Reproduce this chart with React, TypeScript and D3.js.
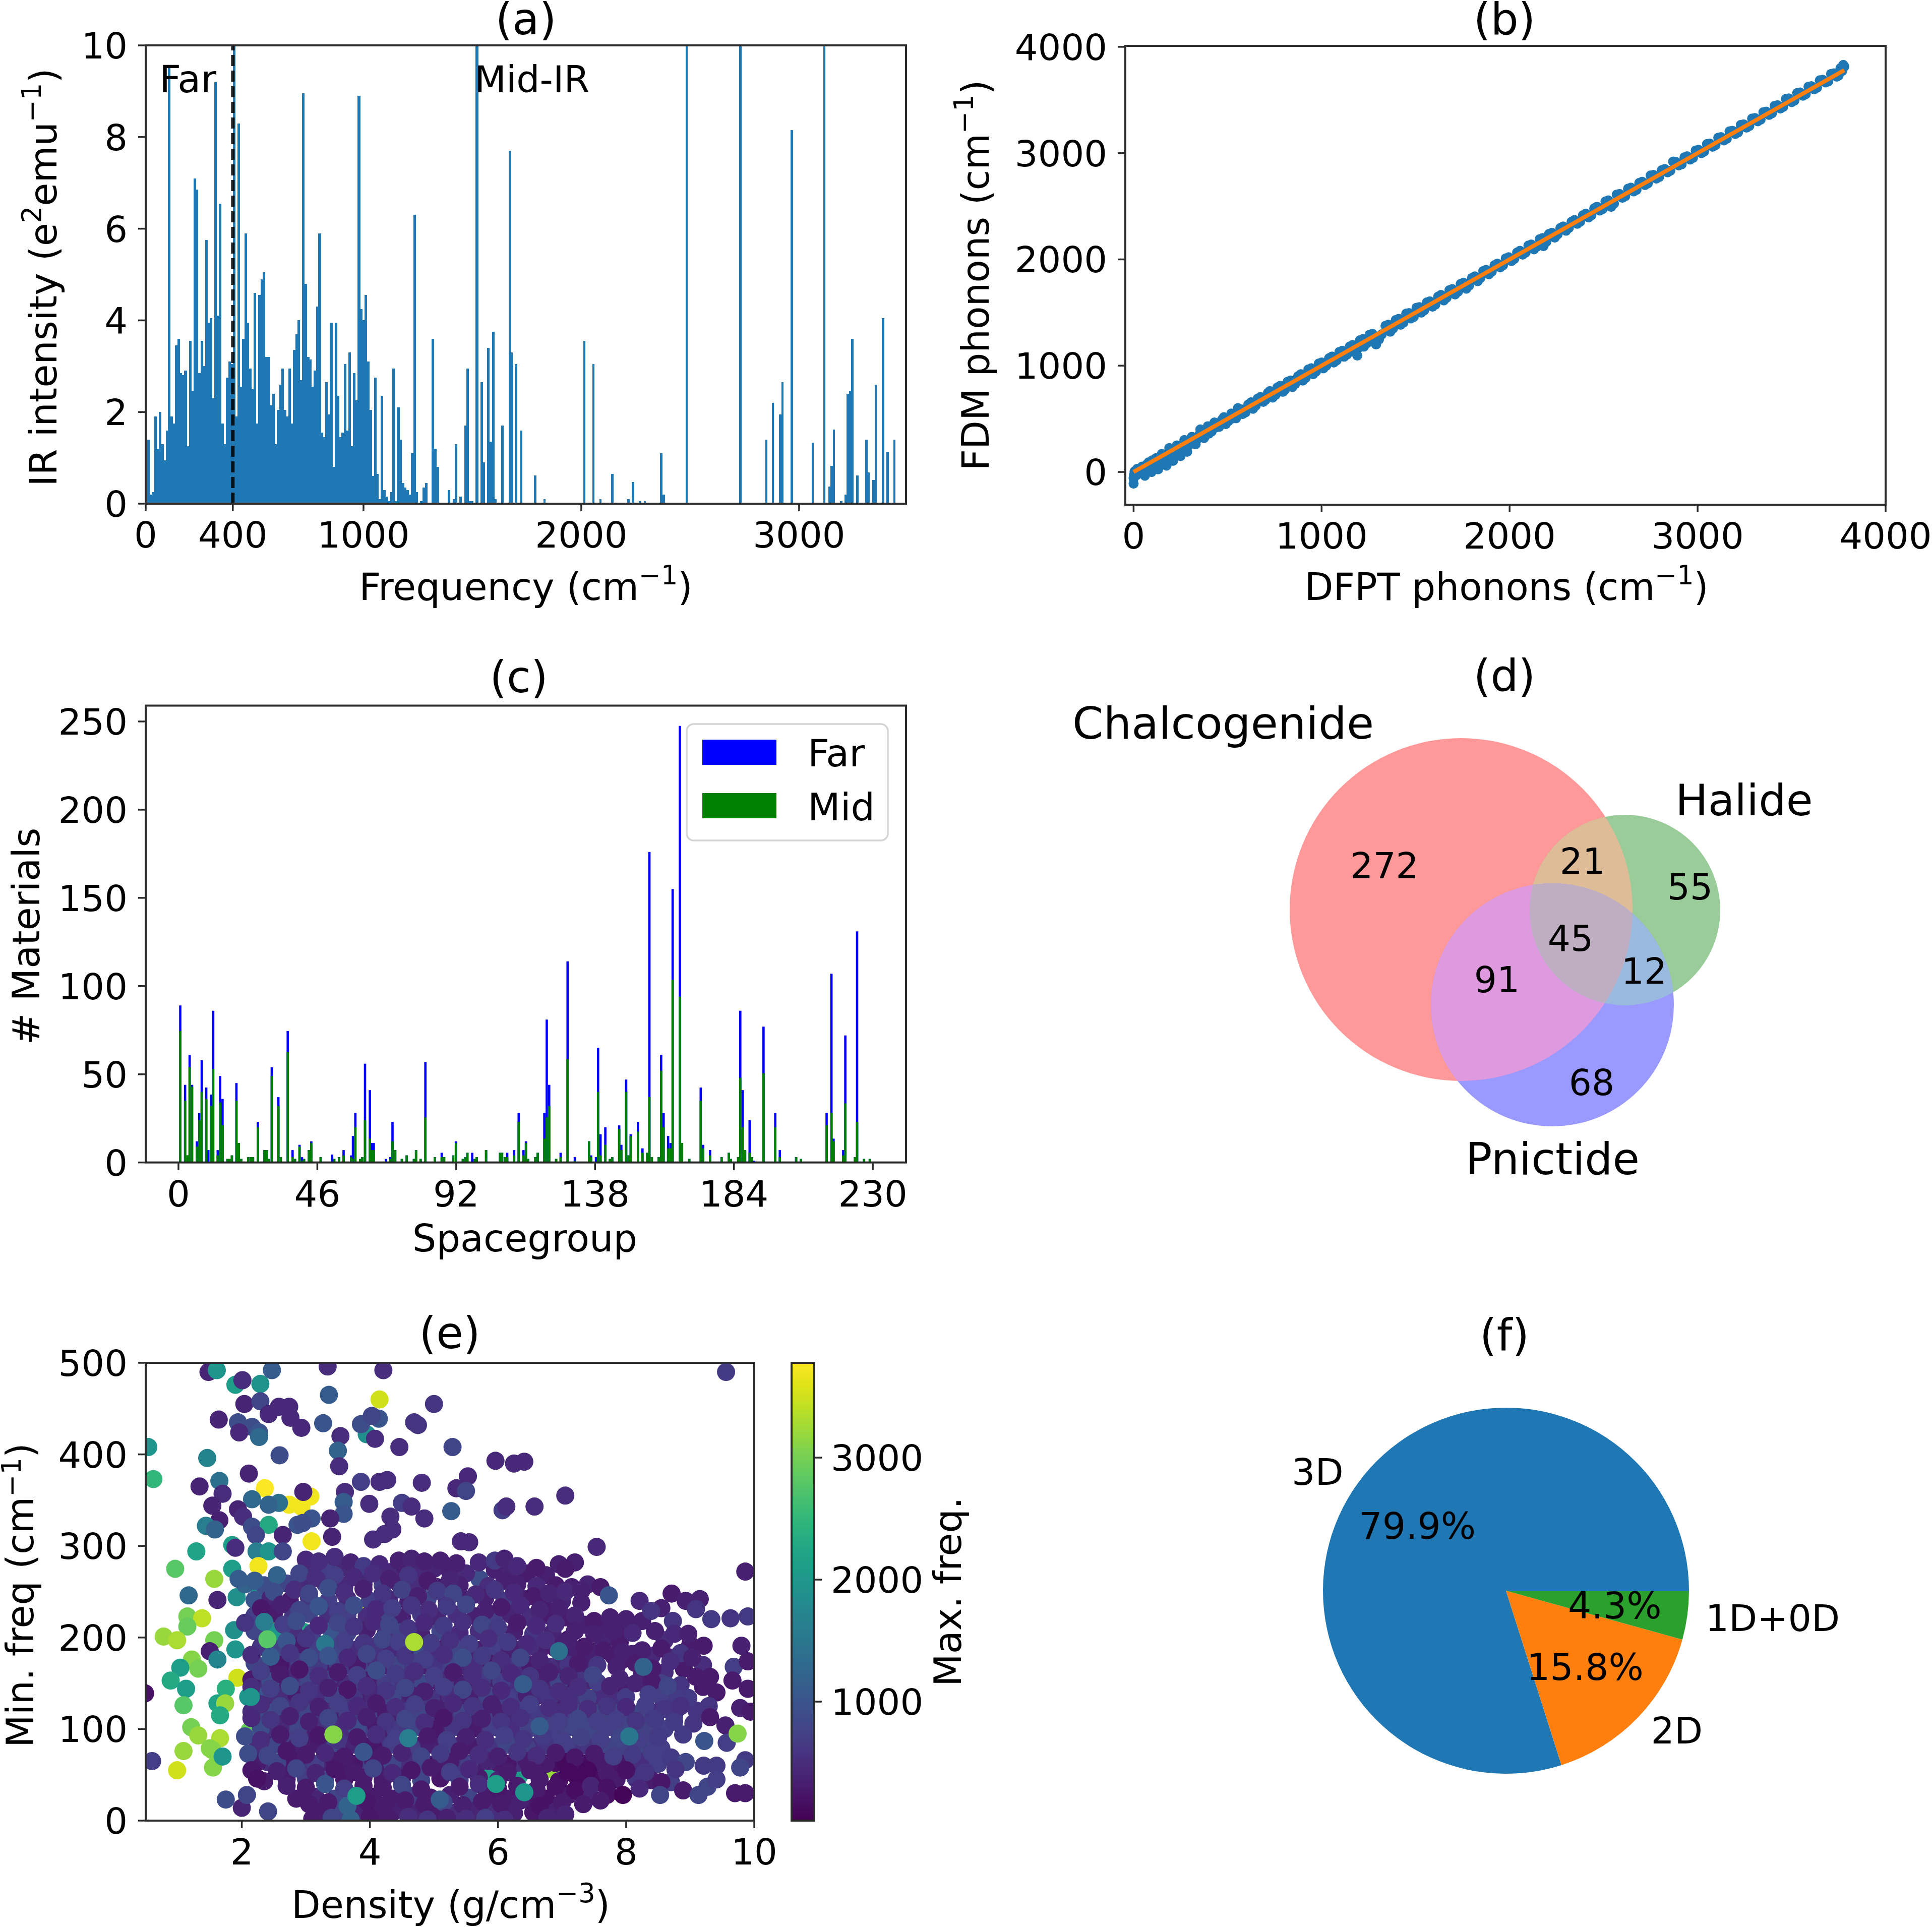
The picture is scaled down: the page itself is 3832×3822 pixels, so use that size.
import * as d3 from "d3";

// ---- panel (a): IR intensity histogram
const irBinStart = 7;
const irBinWidth = 10.62;
const irIntensity = [
  1.4, 0.2, 0.25, 1.9, 1.2, 2.0, 1.3, 0.95, 1.6, 9.5, 1.9, 1.75, 3.45, 3.6, 2.85, 2.8, 2.9, 1.25, 3.55, 2.45,
  7.1, 6.85, 2.85, 3.55, 3.0, 5.75, 3.95, 4.05, 2.3, 9.2, 4.1, 6.55, 1.75, 1.3, 2.75, 3.1, 3.05, 10, 1.9, 8.3, 2.55,
  3.6, 5.9, 3.95, 2.95, 2.5, 4.6, 1.75, 4.55, 4.9, 5.05, 3.2, 3.2, 2.15, 2.4, 1.3, 2.05, 2.6, 2.95, 2.05, 1.9,
  2.95, 1.75, 3.35, 3.7, 4.0, 2.7, 8.95, 4.8, 3.2, 3.15, 2.55, 2.9, 4.3, 5.9, 1.55, 1.45, 2.65, 1.95, 3.95, 0.8,
  3.95, 2.35, 1.45, 1.55, 3.05, 1.6, 3.3, 1.25, 2.85, 2.25, 8.9, 4.25, 4.0, 4.55, 3.1, 2.05, 0.6, 2.75, 0.65, 0.1,
  2.35, 0.3, 0.15, 0.05, 0.25, 2.95, 0.05, 2.1, 1.4, 0.45, 0.35, 0.3, 0.2, 1.1, 6.3, 0.25, 0, 0.05, 0.35, 0.45,
  0, 0, 3.6, 1.2, 0.8, 0, 0, 0, 0, 0.3, 0, 0.1, 1.3, 0, 0.15, 0, 1.7, 2.95, 0.05, 0.05,
  0, 10, 0, 2.65, 0.9, 0, 3.4, 1.35, 3.75, 0.1, 0, 0, 1.7,
];
const irPeakFreq = [
  1671, 1681, 1701, 1725, 1788, 1831, 2014, 2056, 2088, 2142, 2217, 2238, 2270, 2292, 2367, 2378, 2484, 2731, 2850, 2880,
  2914, 2924, 2967, 3063, 3116, 3139, 3150, 3160, 3193, 3214, 3224, 3234, 3245, 3267, 3309, 3319, 3342, 3352, 3385, 3407, 3438,
];
const irPeakValue = [
  7.7, 3.3, 3.05, 1.6, 0.62, 0.1, 3.55, 3.05, 0.1, 0.65, 0.1, 0.47, 0.05, 0.05, 1.1, 0.2, 10, 10, 1.4, 2.2,
  1.95, 2.65, 8.15, 1.33, 10, 0.37, 0.82, 1.62, 0.05, 0.2, 2.4, 2.45, 3.6, 0.62, 1.4, 0.68, 0.52, 2.6, 4.05, 1.13, 1.4,
];
const irTicksX = [0, 400, 1000, 2000, 3000];
const irTicksY = [0, 2, 4, 6, 8, 10];

// ---- panel (b): FDM vs DFPT phonons
const phononPairs: [number, number][] = [
  [0,-110],[0,-60],[2,-30],[5,5],[10,-20],[20,30],[30,-15],[45,50],[55,-10],[70,70],[85,25],[100,110],[110,40],[125,75],[140,60],
  [150,170],[165,100],[180,120],[190,225],[200,150],[215,165],[230,250],[240,190],[255,200],[270,300],[280,230],[295,255],[310,330],
  [320,280],[340,310],[355,400],[365,330],[385,395],[400,360],[430,465],[455,425],[480,515],[505,480],[530,505],[555,600],[580,545],
  [610,635],[635,595],[660,690],[690,660],[715,745],[740,700],[765,795],[795,755],[820,850],[845,800],[875,900],[900,860],[930,965],
  [955,920],[985,1020],[1010,975],[1040,1070],[1065,1030],[1095,1130],[1120,1085],[1150,1180],[1175,1130],[1190,1095],[1205,1240],
  [1225,1180],[1255,1290],[1285,1240],[1290,1200],[1305,1246],[1340,1375],[1365,1320],[1395,1430],[1420,1385],[1450,1490],[1475,1445],
  [1505,1545],[1530,1500],[1560,1595],[1590,1555],[1620,1650],[1650,1615],[1680,1710],[1710,1670],[1740,1770],[1770,1725],[1800,1825],
  [1830,1795],[1860,1890],[1890,1860],[1920,1945],[1950,1925],[1980,2010],[2010,1985],[2040,2065],[2070,2045],[2100,2130],[2130,2095],
  [2160,2190],[2180,2125],[2210,2240],[2240,2205],[2270,2295],[2300,2270],[2330,2355],[2360,2335],[2390,2415],[2420,2395],[2450,2480],
  [2480,2460],[2510,2545],[2540,2495],[2570,2610],[2600,2580],[2630,2665],[2660,2640],[2690,2720],[2720,2700],[2750,2790],[2780,2760],
  [2810,2840],[2840,2820],[2870,2920],[2900,2885],[2930,2960],[2960,2940],[2990,3025],[3020,3000],[3050,3085],[3080,3060],[3110,3145],
  [3140,3120],[3170,3205],[3200,3180],[3230,3265],[3260,3240],[3290,3325],[3320,3300],[3350,3385],[3380,3360],[3410,3445],[3440,3420],
  [3470,3510],[3500,3480],[3530,3565],[3560,3540],[3590,3625],[3620,3600],[3650,3685],[3680,3665],[3710,3745],[3740,3720],[3760,3800],
  [3780,3815],[3775,3830],[3770,3775],
];
const phononInfill: [number, number][] = [
  [15,-30],[40,10],[60,-35],[80,90],[95,0],[120,130],[130,25],[155,110],[175,60],[195,170],[210,105],[235,210],[250,150],[265,260],[285,190],
  [305,290],[330,260],[350,350],[375,320],[395,430],[415,380],[440,420],[470,490],[490,450],[520,550],[545,505],[570,590],[595,560],[625,655],
  [650,625],[675,705],[700,675],[725,760],[755,725],[780,810],[805,775],[835,860],[860,830],[890,920],[915,885],[945,975],[970,945],[1000,1030],
  [1025,1000],[1055,1085],[1080,1050],[1110,1140],[1135,1105],[1165,1195],[1195,1165],[1220,1250],[1240,1210],[1270,1300],[1320,1295],[1355,1385],
  [1380,1350],[1410,1440],[1435,1405],[1465,1495],[1490,1460],[1520,1550],[1545,1520],[1575,1605],[1605,1575],[1635,1665],[1665,1640],[1695,1720],
  [1725,1695],[1755,1780],[1785,1755],[1815,1840],[1845,1825],[1875,1900],[1905,1885],[1935,1960],[1965,1945],[1995,2020],[2025,2005],[2055,2080],
  [2085,2065],[2115,2140],[2145,2120],[2175,2200],[2195,2165],[2225,2250],[2255,2235],[2285,2310],[2315,2295],[2345,2370],[2375,2355],[2405,2430],
  [2435,2415],[2465,2495],[2495,2475],[2525,2555],[2555,2525],[2585,2615],[2615,2595],[2645,2675],[2675,2655],[2705,2730],[2735,2715],[2765,2795],
  [2795,2775],[2825,2850],[2855,2835],[2885,2915],[2915,2895],[2945,2970],[2975,2955],[3005,3030],[3035,3015],[3065,3090],[3095,3075],[3125,3150],
  [3155,3135],[3185,3210],[3215,3195],[3245,3270],[3275,3255],[3305,3330],[3335,3315],[3365,3390],[3395,3375],[3425,3450],[3455,3435],[3485,3515],
  [3515,3495],[3545,3570],[3575,3555],[3605,3630],[3635,3615],[3665,3690],[3695,3675],[3725,3750],[3750,3730],[3770,3810],
];
const parityLine = [0, 3780];
const phononTicks = [0, 1000, 2000, 3000, 4000];

// ---- panel (c): materials per spacegroup
const sgPosition = [
  0.6,2.2,3,3.7,4.5,6.1,6.9,7.7,9.2,9.9,10.8,11.5,13,13.8,14.6,16.2,16.9,17.7,19.2,20,20.8,23.1,24,24.7,26.3,28.5,29.3,30,30.9,33.1,33.9,
  36.2,37.8,38.6,40.1,40.9,41.6,43.2,44,47.1,50.9,51.6,53.2,54.7,57.2,57.8,58.6,60.2,60.9,61.8,63.4,64,64.7,68.7,70.2,70.9,71.8,74,75.6,
  78,78.7,80.2,81.8,84.9,87.2,88,91,91.9,94.2,95,95.7,97.3,98.1,98.8,101.9,106.5,107.2,
  108.1,108.9,111.2,112.7,114.3,115.1,115.8,118.2,119,121.2,122,122.8,125.1,126.6,128.9,131.3,136,136.7,138.3,139,139.8,141.4,142.9,143.7,
  146,146.7,148.3,149.1,149.8,152.2,153.7,155.3,156,156.8,159.1,159.9,160.7,162.2,163,163.7,166.1,166.8,169.2,173,173.8,176.1,179.9,182.3,
  183,185.4,186.1,186.9,187.7,189.2,190,190.7,193.8,197.7,199.2,204.6,206.2,214.7,216.3,217,220.2,220.9,224.1,224.8,227.1,229,
];
const sgFar = [
  89,44,4,61,44,12,28,58,42.5,7,38.5,86,7,49,36,2,2,4,45,11,2,3,3,3,23,7,7,2,54,37,3,74.5,7,2,10,3,2,7,12,3,4.5,2,3,7,4,15,28,2,3,56,41,11,11,
  2,3,23,7,2,4,2,7,2,57,3,5.5,3,4,12,2,3,5.5,5.5,2,3,7,5.5,5.5,
  3,5.5,7,28,7,12,2,3,5.5,28,81,44,2,5.5,114,3,12,4,3,65,16,20,2,3,21,10,47,4,16,23,8,5.5,176,3,3,61,28,15,11,155,247.5,11,2,42.5,10,7,3,5.5,
  2,3,86,41,7,24,3,1,77,28,7,3,2,28,107,13.5,7,72,3,131,2,2,
];
const sgMid = [
  74.5,35,4,54,43,9,24,40,36,0,32,53,4,34,21,2,2,4,35,11,2,3,3,3,20,7,7,2,49,32,3,62.5,3,2,9,1,2,7,11,3,0,2,3,4,3,2,20,2,3,24,13.5,7,7,
  0,2,12,7,2,4,2,7,2,25.5,3,3,3,4,11,2,3,5.5,0,2,3,7,5.5,5.5,
  3,3,4,23,4,11,2,3,5.5,13.5,25.5,32,2,3,58.5,1,12,3,0,40,4,10,2,3,19,7,40,4,15,17.5,5.5,5.5,37,3,3,52,20,8,8,103.5,94,11,2,35,8,4,3,5.5,
  2,3,48,20,7,5.5,3,0,50.5,20,3,3,2,21,28,12,4,33.5,3,23,2,2,
];
const sgTicksX = [0, 46, 92, 138, 184, 230];
const sgTicksY = [0, 50, 100, 150, 200, 250];

// ---- panel (d): venn
const vennRegionCounts = ["272", "21", "55", "45", "91", "12", "68"];
const vennNames = ["Chalcogenide", "Halide", "Pnictide"];

// ---- panel (e): density vs min/max frequency, [density, min freq, max freq]
const upperPoints: [number, number, number][] = [
  [1.48,490,400],[1.61,492,2000],[1.9,476,2100],[2.01,481,500],[2.29,477,1950],[2.47,492,1100],[3.34,496,500],[4.21,492,500],[2.04,455,400],
  [2.29,458,800],[3.36,465,1100],[4.15,460,3500],[1.64,438,400],[1.94,435,900],[2.42,444,450],[2.58,452,450],[2.74,452,450],[2.76,440,450],
  [2.93,429,450],[2.16,430,900],[2.27,424,1000],[1.96,424,450],[2.27,419,1300],[3.27,434,1000],[3.95,422,1900],[3.86,433,900],[4.14,439,1000],[4.03,442,800],
  [4.08,417,500],[3.54,420,500],[3.5,404,1200],[4.46,408,500],[0.54,408,2000],[1.46,396,1700],[2.59,399,900],[3.52,387,500],[0.62,373,2500],
  [2.11,379,400],[3.86,370,700],[4.15,370,500],[4.27,372,500],[1.34,365,400],[1.65,371,1400],[1.7,357,500],[2.36,363,3750],[3.07,354,3700],
  [2.74,345,3700],[2.93,343,3700],[2.96,359,400],[3.61,359,500],[2.16,351,1300],[2.58,347,1400],[2.42,345,1200],[3.59,348,1100],[3.99,346,500],
  [4.5,347,700],[1.54,344,400],[1.94,340,400],[2.02,332,500],[1.65,328,350],[3.59,335,1000],[3.38,330,400],[4.32,332,500],[1.44,322,1600],
  [1.58,318,1200],[2.16,321,900],[2.42,323,2300],[2.87,323,1000],[3.09,330,1000],[2.95,325,900],[2.64,312,400],[2.22,312,800],[3.09,305,3700],
  [3.41,310,400],[4.05,307,500],[4.23,313,500],[4.35,318,500],[1.29,294,2200],[1.85,301,2100],[1.9,298,500],[2.23,294,1600],[2.42,294,2000],[2.64,294,800],
  [2.26,278,3700],[0.96,275,2800],[1.85,275,2100],[1.57,264,3200],[1.17,246,1300],[1.62,241,400],[1.92,244,1900],[2.26,255,2000],
  [1.15,223,3000],[1.38,221,3400],[1.15,212,2900],[0.78,201,3200],[0.99,197,3300],[1.57,197,3000],[1.88,208,1900],[1.9,187,2000],[1.5,185,350],
  [1.62,176,1700],[1.22,176,3100],[1.32,166,3000],[1.04,167,2100],[0.89,153,2300],[1.13,144,2100],[1.93,156,3500],[1.75,144,2400],[0.49,139,200],
  [1.09,126,2800],[1.62,128,2200],[1.74,128,3200],[2.1,135,2000],[1.66,115,2300],[1.21,102,3000],[1.32,93,3200],[1.66,90,3300],[2.12,98,2900],
  [2.34,97,3400],[1.09,76,3200],[1.5,79,3100],[1.54,77,3100],[0.6,65,700],[0.99,55,3500],[1.55,58,3100],[1.7,70,2000],[1.75,23,900],[2,14,400],
  [2.41,10,800],[2.08,28,800],[2.48,240,3700],[2.48,214,3700],[3.98,237,3700],[2.97,206,2300],[2.24,46,200],
  [9.56,490,650],[5,455,600],[4.69,435,600],[4.75,432,600],[5.29,408,800],[5.96,393,450],[6.25,390,450],[6.41,392,450],[4.81,369,500],[5.53,376,450],
  [5.35,363,450],[5.5,360,800],[4.65,343,500],[4.85,330,500],[5.27,338,1100],[6.07,339,700],[6.13,343,500],[6.57,343,500],[7.05,355,500],
  [5.42,305,450],[5.55,304,450],[7.54,299,450],[9.86,272,350],[5.71,264,900],[6.18,130,3100],[7.51,141,3700],[6.85,56,3200],[6.33,49,2100],
  [5.9,53,2100],[4.7,185,3300],
];
// darker backing layers that close most of the gaps in the cloud
const backingPoints: [number, number, number][] = [
  [2.45,190,500],[2.75,186,350],[3.05,186,450],[3.35,186,700],[3.65,188,500],[3.95,186,350],[4.25,188,600],[4.55,187,450],[4.85,186,650],[5.15,188,400],[5.45,186,700],[5.75,187,300],[6.05,186,500],[6.35,187,450],[6.65,186,350],[7,182,300],[7.35,178,350],[7.95,176,300],
  [2.45,170,300],[2.75,171,500],[3.05,170,700],[3.35,171,350],[3.65,170,600],[3.95,171,800],[4.25,170,400],[4.55,171,600],[4.85,170,350],[5.15,171,700],[5.45,170,450],[5.75,171,600],[6.05,170,350],[6.35,170,500],[6.65,170,300],[6.95,170,400],[7.25,164,450],
  [2.3,153,600],[2.6,153,350],[2.9,153,700],[3.2,153,500],[3.5,152,350],[3.8,153,700],[4.1,152,450],[4.4,153,600],[4.7,152,800],[5,153,350],[5.3,152,700],[5.6,153,500],[5.9,152,350],[6.2,153,550],[6.5,152,650],[6.8,153,450],[7.1,152,300],[7.4,153,400],
  [2.4,136,350],[2.7,136,500],[3,136,650],[3.3,136,800],[3.6,136,500],[3.9,136,350],[4.2,136,700],[4.5,136,450],[4.8,135,600],[5.1,136,350],[5.4,136,500],[5.7,136,700],[6,136,400],[6.3,136,650],[6.6,136,500],[6.95,135,350],[7.25,135,600],[7.55,135,500],[7.85,135,550],
  [2.3,118,800],[2.6,118,400],[2.9,118,700],[3.2,117,500],[3.5,118,350],[3.8,118,600],[4.1,118,800],[4.4,118,350],[4.7,117,700],[5,117,500],[5.3,118,600],[5.6,118,350],[5.9,118,700],[6.2,118,450],[6.5,118,600],[6.8,117,750],[7.1,117,650],[7.4,117,700],[7.7,117,750],[8,117,700],[8.3,117,650],
  [2.45,100,500],[2.75,100,700],[3.05,100,350],[3.35,101,800],[3.65,100,500],[3.95,101,700],[4.25,100,350],[4.55,100,600],[4.85,100,750],[5.15,100,350],[5.45,100,700],[5.75,100,500],[6.05,100,650],[6.35,100,800],[6.65,100,700],[6.95,100,650],[7.25,100,750],[7.55,100,800],[7.85,100,700],[8.15,99,700],[8.45,99,650],
  [2.4,82,300],[2.7,82,700],[3,82,500],[3.3,83,350],[3.6,82,750],[3.9,82,300],[4.2,82,600],[4.5,81,500],[4.8,82,350],[5.1,81,700],[5.4,82,450],[5.7,81,600],[6,81,750],[6.3,81,650],[6.6,81,500],[6.9,81,800],[7.2,81,700],[7.5,81,650],[7.8,81,750],[8.1,80,800],[8.4,80,700],
  [2.4,64,500],[2.7,64,300],[3,64,600],[3.3,64,400],[3.6,64,300],[3.9,64,700],[4.2,63,300],[4.5,63,500],[4.8,63,700],[5.1,63,300],[5.4,63,600],[5.7,63,350],[6,63,300],[6.3,63,500],[6.6,63,250],[6.9,63,150],[7.2,63,120],[7.5,63,250],[7.8,63,200],[8.1,63,400],[8.4,63,600],
];
const fillPoints: [number, number, number][] = [
  [3.1,275,500],[3.35,272,700],[3.6,276,450],[3.85,270,500],[4.1,274,350],[4.35,272,450],[4.55,276,350],[4.75,273,450],[5,275,400],[5.25,272,350],[5.5,270,450],[5.95,274,350],[6.2,271,400],[6.45,270,300],[6.75,268,350],
  [2.05,258,1200],[2.35,257,900],[2.7,259,800],[3,257,450],[3.3,259,600],[3.6,256,450],[3.9,258,450],[4.2,257,700],[4.45,259,350],[4.75,256,500],[5.05,255,350],[5.4,257,350],[5.85,256,500],[6.3,258,350],[6.6,256,450],[6.9,257,300],[7.15,255,350],[7.4,258,400],
  [2.2,241,1000],[2.45,243,400],[2.75,240,300],[3.05,243,600],[3.35,240,700],[3.65,242,450],[4,240,700],[4.3,242,450],[4.6,239,350],[4.9,242,800],[5.2,240,450],[5.5,241,350],[5.8,243,350],[6.1,240,650],[6.4,242,350],[6.7,238,300],[7,240,400],[7.3,238,350],
  [2.2,224,700],[2.5,226,300],[2.8,223,600],[3.05,226,800],[3.35,223,550],[3.65,225,700],[3.95,223,500],[4.25,225,800],[4.5,222,350],[4.8,225,650],[5.05,222,400],[5.35,225,500],[5.65,223,350],[5.95,222,700],[6.2,225,400],[6.5,222,500],[6.8,224,300],[7.05,222,300],[7.35,214,350],[7.65,212,350],[7.95,212,300],[8.25,218,350],[8.55,232,350],
  [2.2,207,800],[2.5,206,2000],[2.8,208,500],[3.1,205,700],[3.4,207,1000],[3.65,205,800],[3.95,208,350],[4.25,205,600],[4.5,206,800],[4.8,204,350],[5.1,207,800],[5.4,205,450],[5.7,207,500],[5.95,204,750],[6.25,206,350],[6.55,204,600],[6.85,205,400],[7.1,198,300],[7.65,197,400],[7.9,195,300],[8.6,197,500],
  [2.3,190,600],[2.6,188,800],[2.9,191,300],[3.2,188,700],[3.5,190,800],[3.8,187,500],[4.1,191,600],[4.35,188,450],[4.7,190,900],[5,187,500],[5.3,190,800],[5.6,187,400],[5.9,189,700],[6.2,187,350],[6.5,190,500],[6.9,188,300],[7.2,186,350],[7.5,184,350],[7.8,180,300],[8.1,182,350],[8.4,180,450],[8.7,178,400],[9,192,300],
  [2.2,172,800],[2.6,170,250],[2.9,173,700],[3.2,170,650],[3.5,171,800],[3.8,170,300],[4.1,172,500],[4.4,169,800],[4.7,172,700],[5,170,600],[5.3,172,800],[5.6,168,500],[5.9,171,300],[6.2,168,600],[6.5,170,300],[6.8,168,500],[7.1,170,600],[7.4,166,350],[8.6,162,500],[8.9,166,300],[9.2,170,500],[8.25,160,350],
  [2.15,154,300],[2.45,152,900],[2.75,155,450],[3.05,151,800],[3.35,154,700],[3.65,150,500],[3.95,153,300],[4.25,150,700],[4.55,153,500],[4.85,150,850],[5.15,153,500],[5.45,150,350],[5.75,153,650],[6.05,151,700],[6.35,154,450],[6.65,152,350],[6.95,151,800],[7.25,154,600],[7.55,151,700],[8,145,300],[8.55,150,700],[8.85,148,600],[9.2,146,300],[8,135,650],
  [2.25,136,1000],[2.55,135,500],[2.85,138,300],[3.15,134,500],[3.45,137,800],[3.75,134,600],[4.05,136,450],[4.35,134,800],[4.65,137,350],[4.95,133,600],[5.25,136,500],[5.55,134,350],[5.85,137,800],[6.15,134,700],[6.45,137,350],[6.8,134,600],[7.1,136,550],[7.4,134,750],[7.7,136,500],[8.55,135,700],[8.8,133,650],[9.1,120,600],
  [2.15,119,500],[2.45,118,900],[2.75,120,500],[3.05,117,800],[3.35,119,450],[3.65,117,700],[3.95,120,500],[4.25,117,300],[4.55,119,650],[4.85,116,800],[5.15,119,350],[5.45,117,800],[5.75,119,600],[6.05,117,350],[6.35,119,700],[6.65,116,650],[6.95,118,500],[7.25,117,800],[7.55,117,800],[7.85,117,800],[8.15,116,850],[8.45,118,500],[8.75,115,700],
  [2.3,101,900],[2.6,101,450],[2.9,103,800],[3.2,100,550],[3.5,102,500],[3.8,100,900],[4.1,103,300],[4.4,99,650],[4.7,102,800],[5,99,250],[5.3,102,600],[5.6,100,300],[5.9,102,700],[6.2,99,500],[6.5,101,750],[6.8,99,700],[7.1,102,800],[7.4,99,800],[7.7,102,700],[8,100,800],[8.3,98,750],[8.6,100,700],
  [2.25,82,500],[2.55,83,800],[2.85,81,350],[3.15,84,300],[3.45,81,800],[3.75,83,400],[4.05,81,250],[4.35,83,700],[4.65,80,700],[4.95,83,350],[5.25,80,800],[5.55,82,300],[5.85,80,600],[6.15,83,800],[6.45,80,750],[6.75,82,600],[7.05,80,700],[7.35,82,600],[7.65,80,800],[7.95,81,750],[8.25,80,800],[8.55,79,700],
  [2.25,64,300],[2.55,63,800],[2.85,65,250],[3.15,62,700],[3.45,65,300],[3.75,62,250],[4.05,65,300],[4.35,62,800],[4.65,64,500],[4.95,61,300],[5.25,64,300],[5.55,62,700],[5.85,65,400],[6.15,62,250],[6.45,65,300],[6.75,62,300],[7.05,64,120],[7.35,62,150],[7.65,64,300],[7.95,62,250],[8.25,64,500],[8.5,62,700],
  [2.35,43,300],[2.7,45,300],[3,46,700],[3.3,44,800],[3.6,45,250],[3.9,47,300],[4.2,44,300],[4.5,46,250],[4.8,44,800],[5.1,46,250],[5.4,44,700],[5.7,47,300],[6,44,400],[6.65,45,300],[6.95,43,150],[7.25,45,100],[7.55,44,150],[7.85,45,300],[8.15,46,600],[8.4,44,300],[8.7,42,700],
  [2.85,24,300],[3.15,26,400],[3.45,24,800],[3.75,27,300],[4.05,26,300],[4.35,24,300],[4.65,27,700],[4.95,25,300],[5.25,28,350],[5.55,25,800],[5.85,27,300],[6.15,24,300],[6.45,27,250],[6.75,24,200],[7.1,28,300],[7.4,25,400],[7.7,28,200],
  [3.2,9,300],[3.5,8,800],[3.8,10,400],[4.1,9,300],[4.4,11,350],[4.75,9,400],[5.05,10,300],[5.35,9,500],[5.65,11,400],[5.95,9,500],[6.25,8,350],[6.55,9,250],[6.9,10,350],
];
const densePoints: [number, number, number][] = [
  [3,285,450],[3.2,283,500],[3.45,288,500],[3.7,282,400],[3.9,278,650],[4.15,280,450],[4.45,284,350],[4.65,286,400],[4.85,283,350],[5.1,284,350],[5.35,281,350],
  [5.7,282,450],[5.95,284,650],[6.1,286,400],[6.3,278,450],[6.6,276,300],[6.95,280,350],[7.2,282,350],[7.05,275,300],
  [1.95,264,1100],[2.2,262,1100],[2.55,268,1200],[2.9,270,800],[3.15,265,500],[3.45,268,700],[3.75,266,450],[4.05,270,500],[4.3,264,350],[4.6,268,600],[4.9,262,300],[5.25,263,400],[6.1,262,350],
  [2.5,250,900],[2.82,252,500],[3.05,248,800],[3.35,254,900],[3.6,249,500],[3.9,253,350],[4.2,248,600],[4.5,252,750],[4.75,245,350],[5.05,251,650],[5.3,248,800],[5.65,247,450],[5.95,252,600],[6.25,249,450],[6.55,245,300],[6.8,248,400],[7.05,250,450],[7.3,251,350],[7.6,255,300],
  [2.3,232,250],[2.62,236,350],[2.9,230,800],[3.2,234,1000],[3.5,229,700],[3.75,235,900],[4.1,231,450],[4.35,232,700],[4.65,235,600],[4.92,230,500],[5.2,234,650],[5.5,236,800],[5.8,229,350],[6.05,233,300],[6.35,235,450],[6.65,230,400],[6.95,232,350],[7.2,224,400],[7.5,218,300],[7.73,246,1000],[7.75,222,350],[8,220,350],
  [8.21,240,450],[8.39,229,600],[8.71,248,300],[8.93,240,350],[9.15,242,350],[9.09,231,600],[8.73,218,600],[9.33,220,650],[9.63,221,600],[9.9,223,650],
  [2.05,216,600],[2.35,217,1600],[2.65,214,700],[2.85,218,900],[3.2,213,450],[3.5,216,800],[3.75,212,600],[4.05,217,450],[4.3,214,800],[4.6,210,600],[4.85,216,450],[5.15,213,650],[5.45,217,550],[5.75,214,800],[6,211,650],[6.3,216,300],[6.6,213,450],[6.9,215,500],[7.2,207,350],[7.5,204,350],[7.8,207,350],[8.1,205,450],[8.45,207,350],[8.75,204,450],[8.97,204,350],
  [2.4,198,2800],[2.7,196,1000],[3,199,600],[3.3,193,1500],[3.6,196,700],[3.9,194,600],[4.2,198,800],[4.45,195,700],[4.95,194,650],[5.25,197,550],[5.55,193,700],[5.85,199,500],[6.15,195,650],[6.45,193,450],[6.75,197,500],[7.05,194,350],[7.35,190,300],[7.65,186,300],[7.95,184,350],[8.25,186,350],[8.55,188,300],[8.85,183,600],[9.21,191,300],[9.8,191,350],
  [2.15,181,500],[2.45,179,1100],[2.75,183,600],[3.05,178,900],[3.35,180,1000],[3.65,178,450],[3.95,182,800],[4.25,177,700],[4.55,180,600],[4.85,176,700],[5.15,181,500],[5.45,178,900],[5.75,180,650],[6.05,175,500],[6.35,178,800],[6.65,175,400],[7.25,172,300],[7.55,170,600],
  [7.85,168,350],[8.15,172,300],[8.41,166,300],[8.69,174,500],[9.03,178,350],[9.68,168,700],[9.9,174,300],
  [2.3,163,700],[2.6,160,300],[2.9,165,250],[3.2,158,500],[3.5,162,300],[3.8,159,700],[4.1,164,900],[4.4,160,650],[4.7,163,500],[5,158,700],[5.3,162,300],[5.6,159,500],[5.9,164,800],[6.2,161,450],[6.5,158,600],[6.8,162,350],[7.1,158,400],[7.9,155,400],[8.15,150,400],[8.4,152,300],[9.09,157,300],[9.31,157,300],[9.66,153,300],
  [2.15,146,500],[2.45,144,700],[2.75,147,900],[3.05,142,600],[3.35,145,350],[3.65,143,250],[3.95,147,500],[4.25,142,600],[4.55,145,800],[4.85,141,350],[5.15,146,700],[5.45,143,800],[5.75,145,500],[6.05,142,450],[6.65,144,600],[6.95,141,500],[7.25,146,500],[7.75,147,400],[8.65,147,800],[8.35,138,700],[8.97,134,650],[9.41,140,300],[9.9,144,300],
  [2.3,127,500],[2.6,125,800],[2.9,129,600],[3.2,124,350],[3.5,128,700],[3.8,125,450],[4.1,128,300],[4.4,124,500],[4.7,127,700],[5,123,350],[5.3,128,450],[5.6,125,600],[5.9,127,350],[6.2,124,500],[6.5,127,700],[6.8,123,500],[7.1,126,500],[7.4,122,500],[7.7,125,600],[8,124,450],[8.3,126,700],[8.6,122,600],[8.85,125,550],[9.29,125,600],[9.78,123,350],[9.94,119,300],
  [2.15,112,450],[2.45,110,600],[2.75,114,350],[3.05,108,350],[3.35,112,800],[3.65,109,450],[3.95,113,350],[4.25,108,600],[4.55,111,800],[4.85,107,500],[5.15,112,250],[5.45,109,600],[5.75,111,350],[6.05,108,600],[6.35,112,550],[6.95,108,700],[7.25,111,800],[7.55,108,700],[7.85,110,700],[8.15,109,600],[8.45,111,650],[8.75,108,650],[9.05,106,600],[9.31,113,300],[9.55,104,350],
  [2.05,92,900],[2.3,88,500],[2.6,94,300],[2.9,90,700],[3.2,93,250],[3.5,88,600],[3.8,91,300],[4.1,94,500],[4.4,89,700],[4.9,92,300],[5.2,88,700],[5.5,91,350],[5.8,88,500],[6.1,93,700],[6.4,89,600],[6.7,92,650],[7,88,700],[7.3,91,750],[7.6,88,700],[7.9,90,800],[8.2,88,700],[8.5,91,650],[8.89,94,650],[9.57,85,700],
  [2.1,73,900],[2.4,71,800],[2.7,76,250],[3,72,300],[3.3,74,450],[3.6,70,300],[3.9,75,1000],[4.2,71,300],[4.5,74,400],[4.8,70,800],[5.1,73,650],[5.4,76,300],[5.7,72,500],[6,70,350],[6.3,75,600],[6.6,71,500],[6.9,74,300],[7.2,69,250],[7.5,73,300],[7.8,70,700],[8.1,72,650],[8.4,74,700],[8.7,69,650],[8.93,64,800],[9.86,66,650],[9.21,60,650],[9.41,60,650],[9.78,58,800],
  [2.15,55,250],[2.55,54,350],[2.85,57,800],[3.15,52,400],[3.45,56,250],[3.75,53,300],[4.05,57,800],[4.35,52,450],[4.65,55,250],[4.95,58,300],[5.25,53,700],[5.55,56,450],[6.15,53,300],[6.5,55,300],[7.1,53,100],[7.4,55,100],[7.7,52,300],[8,55,200],[8.3,53,600],[8.77,56,600],[8.55,42,250],
  [2.7,38,350],[3,36,300],[3.3,40,1000],[3.6,35,700],[3.9,38,300],[4.2,36,300],[4.5,39,800],[4.8,34,300],[5.4,37,300],[5.7,40,500],[6,35,250],[6.3,38,300],[6.6,34,300],[6.9,37,200],[7.2,33,150],[7.45,38,400],[7.7,36,200],[7.95,28,80],[8.21,35,450],[8.53,28,800],[8.89,33,300],[9.13,28,800],[9.27,37,800],[9.41,45,700],[9.7,30,300],[9.86,30,300],
  [3.05,18,300],[3.35,20,300],[3.65,16,1200],[3.95,21,250],[4.25,17,300],[4.55,22,300],[4.85,18,300],[5.15,20,800],[5.45,17,350],[5.75,21,300],[6.05,18,300],[6.35,22,350],[6.65,16,200],[7,20,300],[7.33,18,300],[7.6,22,300],
  [3.1,2,300],[3.4,3,800],[3.7,1,1200],[4,4,250],[4.3,2,300],[4.6,4,500],[4.9,1,600],[5.2,3,350],[5.5,2,500],[5.8,3,700],[6.1,1,500],[6.77,3,400],[7.05,7,400],
];
const accentPoints: [number, number, number][] = [
  [3.79,27,2100],[4.69,195,3300],[6.95,185,1400],[6.41,31,2000],[5.97,40,2100],[9.74,95,3100],[8.27,168,1200],[8.05,92,1500],[6.65,103,1100],
  [6.39,149,1100],[7.48,159,800],[5.09,23,1100],[9.22,87,1000],[4.6,90,1600],[3.43,94,3100],[2.14,135,2000],[2.24,46,200],
];
const densityTicks = [2, 4, 6, 8, 10];
const minFreqTicks = [0, 100, 200, 300, 400, 500];
const colorbarTicks = [1000, 2000, 3000];

// ---- panel (f): pie
const dimLabels = ["3D", "2D", "1D+0D"];
const dimShares = [79.9, 15.8, 4.3];
const dimColors = ["#1f77b4", "#ff7f0e", "#2ca02c"];

const FONT = "'DejaVu Sans'";
const TICK = 72;
const LABEL = 75;
const TITLE = 87;
const INK = "#2b2b2b";

type Scale = d3.ScaleLinear<number, number>;

// frame + ticks for one panel
function Frame({ x, y, xTicks, yTicks }: { x: Scale; y: Scale; xTicks: number[]; yTicks: number[] }) {
  const [l, r] = x.range();
  const [b, t] = y.range();
  return (
    <g>
      <rect x={l} y={t} width={r - l} height={b - t} fill="none" stroke={INK} strokeWidth={4} />
      {xTicks.map((v) => (
        <g key={v}>
          <line x1={x(v)} x2={x(v)} y1={b} y2={b + 15} stroke={INK} strokeWidth={3.5} />
          <text x={x(v)} y={b + 87} textAnchor="middle" fontSize={TICK}>{v}</text>
        </g>
      ))}
      {yTicks.map((v) => (
        <g key={v}>
          <line x1={l - 15} x2={l} y1={y(v)} y2={y(v)} stroke={INK} strokeWidth={3.5} />
          <text x={l - 36} y={y(v) + 26} textAnchor="end" fontSize={TICK}>{v}</text>
        </g>
      ))}
    </g>
  );
}

function Sup({ children }: { children: string }) {
  return <tspan dy={-31} fontSize={LABEL * 0.7}>{children}</tspan>;
}

function App() {
  // (a)
  const xA = d3.scaleLinear().domain([0, 3491]).range([289, 1797]);
  const yA = d3.scaleLinear().domain([0, 10]).range([999, 90]);
  const barA = xA(irBinWidth) - xA(0);
  // (b)
  const xB = d3.scaleLinear().domain([-44, 4000]).range([2232, 3740]);
  const yB = d3.scaleLinear().domain([-308, 4009]).range([1001, 91]);
  const phononAll = [...phononInfill, ...phononPairs];
  // (c)
  const xC = d3.scaleLinear().domain([-10.85, 241]).range([289, 1797]);
  const yC = d3.scaleLinear().domain([0, 259]).range([2305.6, 1399.5]);
  const barC = xC(0.77) - xC(0);
  // (e)
  const xE = d3.scaleLinear().domain([0.5, 10]).range([289, 1496]);
  const yE = d3.scaleLinear().domain([0, 500]).range([3611, 2703]);
  const colorE = d3.scaleSequential(d3.interpolateViridis).domain([25, 3777]);
  const yBar = d3.scaleLinear().domain([25, 3777]).range([3611, 2703]);
  const scatterE = [...upperPoints, ...backingPoints, ...fillPoints, ...densePoints, ...accentPoints];
  // (f)
  const pieCx = 2987;
  const pieCy = 3155;
  const pieR = 363;
  const slices = d3.pie<number>().sort(null).startAngle(Math.PI / 2).endAngle(Math.PI / 2 - 2 * Math.PI)(dimShares);
  const arc = d3.arc<d3.PieArcDatum<number>>().innerRadius(0).outerRadius(pieR);

  return (
    <svg width={3832} height={3822} style={{ position: "absolute", left: 0, top: 0, background: "#fff" }} fontFamily={FONT} fill="#000">
      <defs>
        <clipPath id="clipA"><rect x={289} y={90} width={1508} height={909} /></clipPath>
        <clipPath id="clipE"><rect x={289} y={2703} width={1207} height={908} /></clipPath>
        <clipPath id="vennA"><circle cx={2898} cy={1804} r={340} /></clipPath>
        <clipPath id="vennB"><circle cx={3223} cy={1805} r={189} /></clipPath>
        <linearGradient id="viridisBar" x1="0" x2="0" y1="1" y2="0">
          {d3.range(0, 1.001, 0.05).map((t) => (
            <stop key={t} offset={t} stopColor={d3.interpolateViridis(t)} />
          ))}
        </linearGradient>
      </defs>

      {/* (a) */}
      <g clipPath="url(#clipA)" fill="#1f77b4" shapeRendering="crispEdges">
        {irIntensity.map((v, i) => (
          <rect key={i} x={xA(irBinStart + i * irBinWidth)} y={yA(v)} width={barA + 0.5} height={yA(0) - yA(v)} />
        ))}
        {irPeakFreq.map((f, i) => (
          <rect key={f} x={xA(f) - barA / 2} y={yA(irPeakValue[i])} width={barA} height={yA(0) - yA(irPeakValue[i])} />
        ))}
      </g>
      <line x1={xA(400)} x2={xA(400)} y1={yA(0)} y2={yA(10)} stroke="#000" strokeOpacity={0.85} strokeWidth={7} strokeDasharray="22 9" />
      <text x={316} y={183} fontSize={75}>Far</text>
      <text x={941} y={183} fontSize={73}>Mid-IR</text>
      <Frame x={xA} y={yA} xTicks={irTicksX} yTicks={irTicksY} />
      <text x={1043} y={68} textAnchor="middle" fontSize={TITLE}>(a)</text>
      <text x={1043} y={1190} textAnchor="middle" fontSize={LABEL}>Frequency (cm<tspan dy={-31} fontSize={LABEL * 0.7}>−1</tspan><tspan dy={31}>)</tspan></text>
      <text transform="translate(112,550) rotate(-90)" textAnchor="middle" fontSize={LABEL}>
        IR intensity (e<Sup>2</Sup><tspan dy={31}>emu</tspan><Sup>−1</Sup><tspan dy={31}>)</tspan>
      </text>

      {/* (b) */}
      <g fill="#1f77b4">
        {phononAll.map(([a, b], i) => (
          <circle key={i} cx={xB(a)} cy={yB(b)} r={10} />
        ))}
      </g>
      <line x1={xB(parityLine[0])} y1={yB(parityLine[0])} x2={xB(parityLine[1])} y2={yB(parityLine[1])} stroke="#ff7f0e" strokeWidth={8} />
      <Frame x={xB} y={yB} xTicks={phononTicks} yTicks={phononTicks} />
      <text x={2984} y={68} textAnchor="middle" fontSize={TITLE}>(b)</text>
      <text x={2988} y={1190} textAnchor="middle" fontSize={74}>DFPT phonons (cm<tspan dy={-31} fontSize={LABEL * 0.7}>−1</tspan><tspan dy={31}>)</tspan></text>
      <text transform="translate(1961,546) rotate(-90)" textAnchor="middle" fontSize={74}>
        FDM phonons (cm<Sup>−1</Sup><tspan dy={31}>)</tspan>
      </text>

      {/* (c) */}
      {sgPosition.map((s, i) => (
        <rect key={i} x={xC(s) - barC / 2} y={yC(sgFar[i])} width={barC} height={yC(0) - yC(sgFar[i])} fill="#0000ff" />
      ))}
      {sgPosition.map((s, i) => (
        <rect key={i} x={xC(s) - barC / 2} y={yC(sgMid[i])} width={barC} height={yC(0) - yC(sgMid[i])} fill="#008000" />
      ))}
      <Frame x={xC} y={yC} xTicks={sgTicksX} yTicks={sgTicksY} />
      <rect x={1362} y={1436} width={399} height={231} rx={14} fill="#fff" fillOpacity={0.8} stroke="#d4d4d4" strokeWidth={3.5} />
      <rect x={1393} y={1467} width={147} height={50} fill="#0000ff" />
      <rect x={1393} y={1573} width={147} height={50} fill="#008000" />
      <text x={1602} y={1520} fontSize={75}>Far</text>
      <text x={1602} y={1627} fontSize={75}>Mid</text>
      <text x={1029} y={1373} textAnchor="middle" fontSize={TITLE}>(c)</text>
      <text x={1041} y={2482} textAnchor="middle" fontSize={LABEL}>Spacegroup</text>
      <text transform="translate(78,1857) rotate(-90)" textAnchor="middle" fontSize={LABEL}># Materials</text>

      {/* (d) */}
      <circle cx={2898} cy={1804} r={340} fill="#ff9999" />
      <circle cx={3223} cy={1805} r={189} fill="#99cc99" />
      <circle cx={3079} cy={1993} r={241} fill="#9999ff" />
      <g clipPath="url(#vennA)"><circle cx={3223} cy={1805} r={189} fill="#dfbc98" /></g>
      <g clipPath="url(#vennA)"><circle cx={3079} cy={1993} r={241} fill="#df99df" /></g>
      <g clipPath="url(#vennB)"><circle cx={3079} cy={1993} r={241} fill="#99b9df" /></g>
      <g clipPath="url(#vennA)"><g clipPath="url(#vennB)"><circle cx={3079} cy={1993} r={241} fill="#bfadc2" /></g></g>
      <g fontSize={71} textAnchor="middle">
        <text x={2746} y={1742}>{vennRegionCounts[0]}</text>
        <text x={3139} y={1733}>{vennRegionCounts[1]}</text>
        <text x={3352} y={1784}>{vennRegionCounts[2]}</text>
        <text x={3115} y={1886}>{vennRegionCounts[3]}</text>
        <text x={2969} y={1968}>{vennRegionCounts[4]}</text>
        <text x={3261} y={1951}>{vennRegionCounts[5]}</text>
        <text x={3157} y={2172}>{vennRegionCounts[6]}</text>
      </g>
      <g>
        <text x={2127} y={1465} fontSize={88}>{vennNames[0]}</text>
        <text x={3323} y={1617} fontSize={86}>{vennNames[1]}</text>
        <text x={2907} y={2329} fontSize={87}>{vennNames[2]}</text>
      </g>
      <text x={2984} y={1370} textAnchor="middle" fontSize={TITLE}>(d)</text>

      {/* (e) */}
      <g clipPath="url(#clipE)">
        {scatterE.map(([d, v, m], i) => (
          <circle key={i} cx={xE(d)} cy={yE(v)} r={18} fill={colorE(m)} />
        ))}
      </g>
      <Frame x={xE} y={yE} xTicks={densityTicks} yTicks={minFreqTicks} />
      <rect x={1570} y={2703} width={45} height={908} fill="url(#viridisBar)" stroke={INK} strokeWidth={4} />
      {colorbarTicks.map((t) => (
        <g key={t}>
          <line x1={1615} x2={1630} y1={yBar(t)} y2={yBar(t)} stroke={INK} strokeWidth={3.5} />
          <text x={1648} y={yBar(t) + 26} fontSize={TICK}>{t}</text>
        </g>
      ))}
      <text x={892} y={2674} textAnchor="middle" fontSize={TITLE}>(e)</text>
      <text x={894} y={3804} textAnchor="middle" fontSize={LABEL}>Density (g/cm<tspan dy={-31} fontSize={LABEL * 0.7}>−3</tspan><tspan dy={31}>)</tspan></text>
      <text transform="translate(66,3164) rotate(-90)" textAnchor="middle" fontSize={LABEL}>
        Min. freq (cm<tspan dy={-25} fontSize={LABEL * 0.7}>−1</tspan><tspan dy={25}>)</tspan>
      </text>
      <text transform="translate(1906,3157) rotate(-90)" textAnchor="middle" fontSize={LABEL}>Max. freq.</text>

      {/* (f) */}
      <g transform={`translate(${pieCx},${pieCy})`}>
        {slices.map((s, i) => (
          <path key={i} d={arc(s) ?? ""} fill={dimColors[i]} />
        ))}
        {slices.map((s, i) => {
          const mid = (s.startAngle + s.endAngle) / 2;
          const ux = Math.sin(mid);
          const uy = -Math.cos(mid);
          return (
            <g key={i} fontSize={73}>
              <text x={ux * pieR * 0.6} y={uy * pieR * 0.6 + 26} textAnchor="middle">{dimShares[i].toFixed(1)}%</text>
              <text x={ux * pieR * 1.1} y={uy * pieR * 1.1 + 26} textAnchor={ux > 0 ? "start" : "end"}>{dimLabels[i]}</text>
            </g>
          );
        })}
      </g>
      <text x={2984} y={2678} textAnchor="middle" fontSize={TITLE}>(f)</text>
    </svg>
  );
}

export default App;
